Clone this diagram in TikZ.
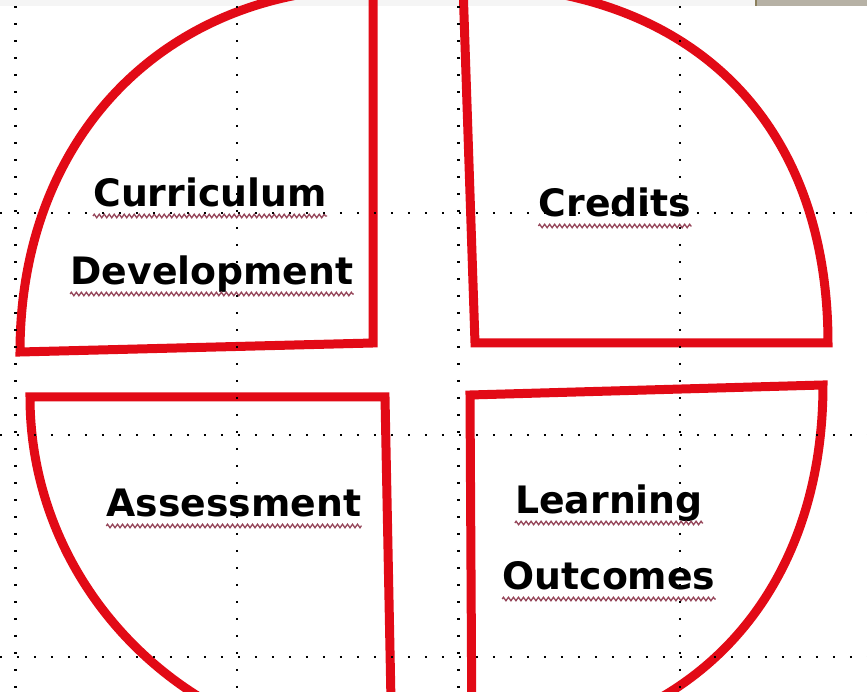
\documentclass[tikz,border=0pt]{standalone}
\usepackage[x11names,svgnames]{xcolor}
\usepackage{fontspec}
\setmainfont{DejaVu Sans}
\usepackage{tikz}
\usetikzlibrary{decorations.pathmorphing}
\definecolor{pieRed}{RGB}{226,10,22}
\definecolor{squigRed}{RGB}{150,70,90}
\definecolor{tabGray}{RGB}{182,177,165}
\definecolor{tabEdge}{RGB}{140,128,92}

\begin{document}
\begin{tikzpicture}[x=0.02cm,y=-0.02cm,
    quarter/.style={draw=pieRed,line width=0.18cm,line join=miter},
    gridline/.style={line width=0.05cm,dash pattern=on 0.05cm off 0.29cm},
    word/.style={anchor=base,inner sep=0pt,text=black,font=\fontsize{21.5}{26}\selectfont\bfseries},
    squiggle/.style={draw=squigRed,line width=0.75pt,decorate,decoration={zigzag,segment length=0.1cm,amplitude=0.035cm}}]
  \useasboundingbox (0,0) rectangle (867,692);
  \clip (0,0) rectangle (867,692);
  \fill[white] (0,0) rectangle (867,692);
  \fill[WhiteSmoke] (0,0) rectangle (867,6);
  \fill[tabGray] (755,0) rectangle (867,6);
  \fill[tabEdge] (755,0) rectangle (757,6);

  \draw[quarter] (20,352) -- (373,343) -- (373,-12) .. controls (165,-12) and (20,137) .. cycle;
  \draw[quarter] (475,343) -- (828,343) .. controls (828,120) and (690,-15) .. (463,-15) -- cycle;
  \draw[quarter] (30,397) -- (385,397) -- (392,752) .. controls (193,752) and (30,592) .. cycle;
  \draw[quarter] (470,395) -- (823,385) .. controls (823,601) and (684,745) .. (472,745) -- cycle;

  \node[word] (cur) at (210,207) {Curriculum};
  \node[word] (dev) at (212,285) {Development};
  \node[word] (cred) at (615,217) {Credits};
  \node[word] (assess) at (234,517) {Assessment};
  \node[word] (learn) at (609,514) {Learning};
  \node[word] (outc) at (609,590) {Outcomes};
  \foreach \w in {cur,dev,cred,assess,learn,outc}
    \draw[squiggle] ([yshift=-0.18cm]\w.base west) -- ([yshift=-0.18cm]\w.base east);

  \foreach \gx in {15.5,237,458.5,680}
    \draw[gridline] (\gx,6) -- (\gx,692);
  \foreach \gy in {213,435,657}
    \draw[gridline] (0,\gy) -- (867,\gy);
\end{tikzpicture}
\end{document}
